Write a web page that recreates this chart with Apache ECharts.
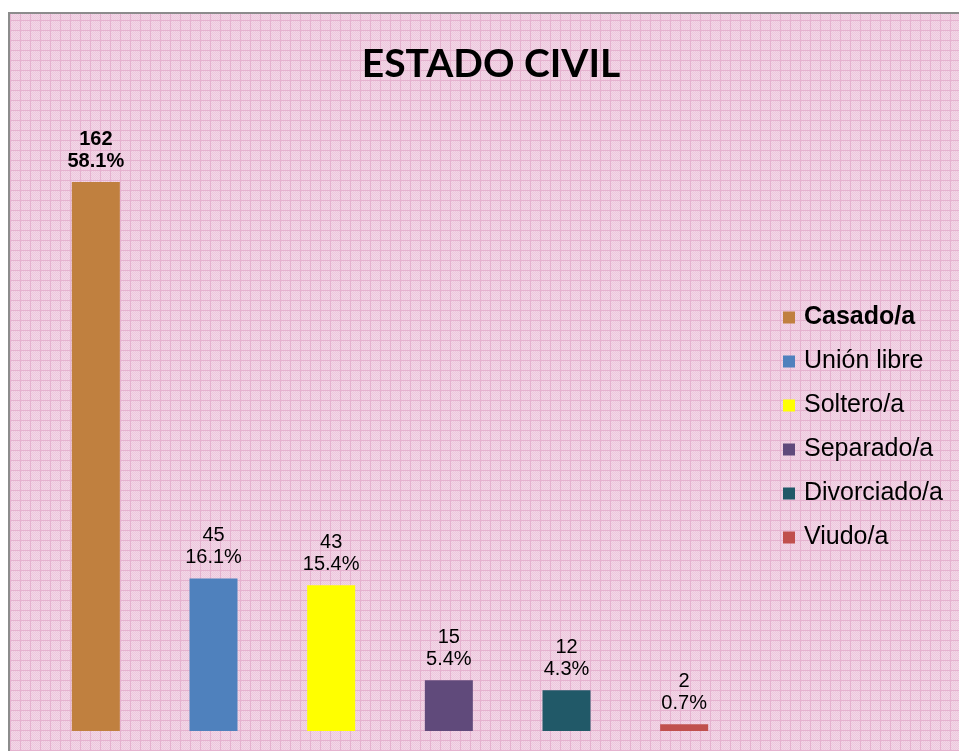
<!DOCTYPE html>
<html>
<head>
<meta charset="utf-8">
<script src="https://cdn.jsdelivr.net/npm/echarts@6/dist/echarts.min.js"></script>
<style>
	html, body { margin: 0; padding: 0; background: #fff; }
	#chart { width: 959px; height: 751px; }
</style>
</head>
<body>
<div id="chart"></div>
<script>
	var categories = ['Casado/a', 'Unión libre', 'Soltero/a', 'Separado/a', 'Divorciado/a', 'Viudo/a'];
	var counts = [162, 45, 43, 15, 12, 2];
	var percents = ['58.1%', '16.1%', '15.4%', '5.4%', '4.3%', '0.7%'];
	var colors = ['#c0803f', '#4f81bd', '#ffff00', '#604a7b', '#215968', '#c0504d'];

	// pink checkered background tile
	var tile = document.createElement('canvas');
	tile.width = 10;
	tile.height = 10;
	var ctx = tile.getContext('2d');
	ctx.fillStyle = '#f3d7e7';
	ctx.fillRect(0, 0, 10, 10);
	ctx.fillStyle = '#ecc8dd';
	for (var i = 1; i < 10; i++) {
		for (var j = 1; j < 10; j++) {
			if ((i + j) % 2 === 0) ctx.fillRect(i, j, 1, 1);
		}
	}
	ctx.fillStyle = '#e5b2cf';
	ctx.fillRect(0, 0, 10, 1);
	ctx.fillRect(0, 0, 1, 10);

	var myChart = echarts.init(document.getElementById('chart'));

	var series = categories.map(function(name, idx) {
		return {
			name: name,
			type: 'bar',
			stack: 'all',
			barWidth: 48,
			itemStyle: { color: colors[idx] },
			label: {
				show: true,
				position: 'top',
				distance: 10,
				color: '#000',
				fontFamily: 'Liberation Sans',
				fontSize: 20,
				lineHeight: 22,
				fontWeight: idx === 0 ? 'bold' : 'normal',
				formatter: function(p) {
					return counts[idx] + '\n' + percents[idx];
				}
			},
			data: categories.map(function(c, k) {
				return k === idx ? counts[idx] : '-';
			})
		};
	});

	var option = {
		animation: false,
		backgroundColor: '#fff',
		graphic: [{
			type: 'rect',
			z: -10,
			silent: true,
			shape: { x: 9, y: 13, width: 960, height: 750 },
			style: {
				fill: { image: tile, repeat: 'repeat' },
				stroke: '#8c8c8c',
				lineWidth: 2
			}
		}],
		title: {
			text: 'ESTADO CIVIL',
			left: 486,
			textAlign: 'center',
			top: 40,
			textStyle: {
				fontFamily: 'Lato',
				fontWeight: 'bold',
				fontSize: 39,
				color: '#000'
			}
		},
		legend: {
			orient: 'vertical',
			left: 783,
			top: 305,
			padding: 0,
			itemWidth: 12,
			itemHeight: 12,
			itemGap: 19,
			icon: 'rect',
			textStyle: {
				fontFamily: 'Liberation Sans',
				fontSize: 25,
				lineHeight: 25,
				color: '#000',
				padding: [0, 0, 0, 4]
			},
			data: categories.map(function(c, k) {
				return k === 0 ? { name: c, textStyle: { fontWeight: 'bold' } } : { name: c };
			})
		},
		grid: {
			left: 37,
			width: 706,
			top: 121,
			bottom: 20
		},
		xAxis: {
			type: 'category',
			data: categories,
			show: false
		},
		yAxis: {
			type: 'value',
			min: 0,
			max: 180,
			show: false
		},
		series: series
	};

	myChart.setOption(option);
</script>
</body>
</html>
